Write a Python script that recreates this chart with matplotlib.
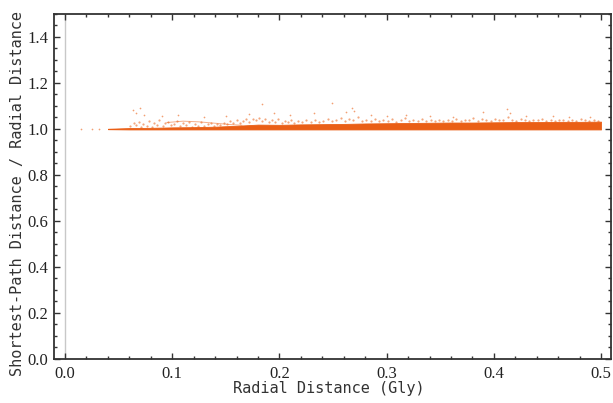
import matplotlib
matplotlib.use("Agg")
import matplotlib.pyplot as plt
from matplotlib.ticker import MultipleLocator, FormatStrFormatter

# ---- data ----
# dense core band (solid)
band_x  = [0.040, 0.060, 0.080, 0.100, 0.120, 0.140, 0.160, 0.180, 0.200, 0.220, 0.240,
           0.260, 0.280, 0.300, 0.320, 0.340, 0.360, 0.380, 0.400, 0.420, 0.440, 0.460,
           0.480, 0.500]
band_lo = [0.999, 0.998, 0.998, 0.998, 0.998, 0.998, 0.998, 0.998, 0.998, 0.998, 0.998,
           0.998, 0.998, 0.998, 0.998, 0.998, 0.998, 0.998, 0.998, 0.998, 0.998, 0.998,
           0.998, 0.998]
band_hi = [1.001, 1.004, 1.005, 1.007, 1.008, 1.010, 1.014, 1.019, 1.018, 1.020, 1.021,
           1.022, 1.024, 1.025, 1.026, 1.027, 1.028, 1.028, 1.029, 1.030, 1.030, 1.031,
           1.031, 1.032]
# sparse halo points just above the band
halo_x = [0.061, 0.064, 0.066, 0.069, 0.071, 0.073, 0.076, 0.078, 0.081, 0.083, 0.086,
          0.088, 0.091, 0.093, 0.096, 0.099, 0.102, 0.104, 0.107, 0.110, 0.113, 0.116,
          0.118, 0.121, 0.124, 0.127, 0.130, 0.133, 0.136, 0.139, 0.142, 0.145, 0.148,
          0.151, 0.154, 0.157, 0.160, 0.163, 0.166, 0.169, 0.172, 0.175, 0.178, 0.181,
          0.184, 0.187, 0.190, 0.193, 0.196, 0.199, 0.202, 0.205, 0.208, 0.211, 0.214,
          0.217, 0.221, 0.225, 0.229, 0.233, 0.237, 0.241, 0.245, 0.249, 0.253, 0.257,
          0.261, 0.265, 0.269, 0.273, 0.277, 0.281, 0.285, 0.289, 0.293, 0.297, 0.301,
          0.305, 0.309, 0.313, 0.317, 0.321, 0.325, 0.329, 0.333, 0.337, 0.341, 0.345,
          0.349, 0.353, 0.357, 0.361, 0.365, 0.369, 0.373, 0.377, 0.381, 0.385, 0.389,
          0.393, 0.397, 0.401, 0.405, 0.409, 0.413, 0.417, 0.421, 0.425, 0.429, 0.433,
          0.437, 0.441, 0.445, 0.449, 0.453, 0.457, 0.461, 0.465, 0.469, 0.473, 0.477,
          0.481, 0.485, 0.489, 0.493, 0.497]
halo_y = [1.012, 1.025, 1.018, 1.032, 1.008, 1.021, 1.015, 1.036, 1.010, 1.027, 1.019,
          1.041, 1.013, 1.024, 1.030, 1.016, 1.022, 1.034, 1.011, 1.026, 1.018, 1.031,
          1.009, 1.023, 1.015, 1.029, 1.012, 1.020, 1.026, 1.014, 1.022, 1.017, 1.028,
          1.021, 1.033, 1.025, 1.040, 1.028, 1.036, 1.045, 1.030, 1.042, 1.038, 1.048,
          1.034, 1.044, 1.029, 1.039, 1.032, 1.043, 1.027, 1.036, 1.031, 1.040, 1.026,
          1.034, 1.029, 1.037, 1.032, 1.041, 1.030, 1.036, 1.044, 1.033, 1.039, 1.047,
          1.035, 1.042, 1.038, 1.050, 1.034, 1.040, 1.036, 1.045, 1.033, 1.039, 1.035,
          1.043, 1.032, 1.038, 1.046, 1.034, 1.040, 1.036, 1.042, 1.033, 1.038, 1.035,
          1.041, 1.034, 1.039, 1.036, 1.044, 1.035, 1.040, 1.037, 1.048, 1.036, 1.042,
          1.038, 1.035, 1.043, 1.037, 1.041, 1.052, 1.039, 1.036, 1.042, 1.038, 1.035,
          1.040, 1.037, 1.043, 1.036, 1.039, 1.035, 1.041, 1.037, 1.034, 1.040, 1.036,
          1.042, 1.037, 1.035, 1.039, 1.036]
# streak in the low-distance region
streak_x = [0.095, 0.110, 0.125, 0.140, 0.155, 0.165]
streak_y = [1.028, 1.034, 1.031, 1.025, 1.019, 1.016]
# isolated outlier points
out_x = [0.015, 0.025, 0.032, 0.063, 0.066, 0.070, 0.074, 0.090, 0.105, 0.130, 0.150,
         0.172, 0.184, 0.195, 0.210, 0.232, 0.249, 0.262, 0.268, 0.270, 0.285, 0.300,
         0.318, 0.340, 0.362, 0.390, 0.412, 0.415, 0.430, 0.455, 0.470, 0.490]
out_y = [1.000, 1.000, 1.001, 1.083, 1.070, 1.090, 1.060, 1.055, 1.062, 1.050, 1.058,
         1.065, 1.110, 1.070, 1.060, 1.068, 1.114, 1.075, 1.090, 1.080, 1.060, 1.058,
         1.062, 1.055, 1.050, 1.075, 1.088, 1.070, 1.055, 1.058, 1.052, 1.050]

x_ticks = [0.0, 0.1, 0.2, 0.3, 0.4, 0.5]
y_ticks = [0.0, 0.2, 0.4, 0.6, 0.8, 1.0, 1.2, 1.4]

ORANGE = "#EA5F16"
FRAME = "#333333"

fig = plt.figure(figsize=(6.13, 4.03), dpi=100)
ax = fig.add_axes([0.0881, 0.1092, 0.9086, 0.8561])

ax.axvline(0.0, color="#c8c8c8", lw=1.0, zorder=1)

ax.scatter(halo_x, halo_y, s=2.5, color=ORANGE, alpha=0.55, lw=0, zorder=2)
ax.fill_between(band_x, band_lo, band_hi, color=ORANGE, lw=0.6, zorder=3)
ax.plot(streak_x, streak_y, color=ORANGE, lw=0.7, alpha=0.5, zorder=3)
ax.scatter(out_x, out_y, s=1.5, color=ORANGE, alpha=0.6, lw=0, zorder=4)

ax.set_xlim(-0.0103, 0.5093)
ax.set_ylim(0.0, 1.5)
ax.set_xticks(x_ticks)
ax.set_yticks(y_ticks)
ax.xaxis.set_minor_locator(MultipleLocator(0.02))
ax.yaxis.set_minor_locator(MultipleLocator(0.05))
ax.xaxis.set_major_formatter(FormatStrFormatter("%.1f"))
ax.yaxis.set_major_formatter(FormatStrFormatter("%.1f"))

ax.tick_params(which="both", direction="in", top=True, right=True, color=FRAME,
               width=1.0)
ax.tick_params(which="major", length=4.5, labelsize=12, labelcolor="#222222")
ax.tick_params(axis="x", which="major", pad=5)
ax.tick_params(axis="y", which="major", pad=4)
ax.tick_params(which="minor", length=2.5)
for lab in ax.get_xticklabels() + ax.get_yticklabels():
    lab.set_fontfamily("Liberation Serif")
for sp in ax.spines.values():
    sp.set_color(FRAME)
    sp.set_linewidth(1.3)

ax.set_xlabel("Radial Distance (Gly)", family="DejaVu Sans Mono", fontsize=11,
              color=FRAME)
ax.set_ylabel("Shortest-Path Distance / Radial Distance", family="DejaVu Sans Mono",
              fontsize=11, color=FRAME)
ax.xaxis.set_label_coords(0.494, -0.086, transform=ax.transAxes)
ax.xaxis.label.set_va("center")
ax.yaxis.set_label_coords(-0.065, 0.481, transform=ax.transAxes)
ax.yaxis.label.set_va("center")

fig.savefig("out.png", dpi=100)
